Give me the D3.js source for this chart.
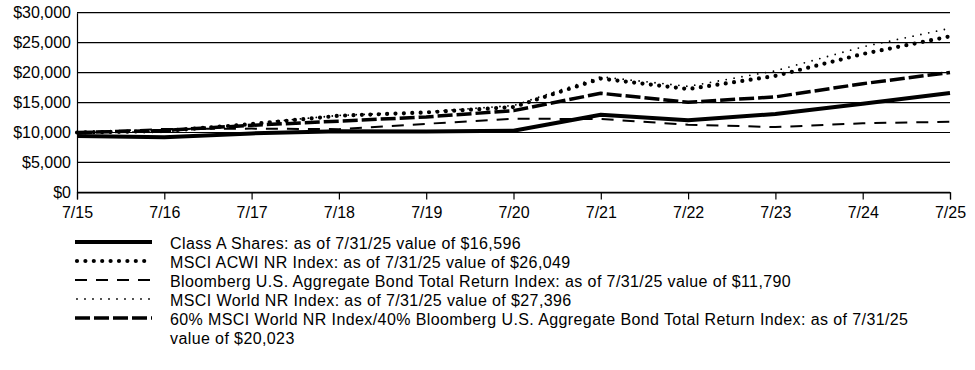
<!DOCTYPE html>
<html>
<head>
<meta charset="utf-8">
<script src="https://cdn.jsdelivr.net/npm/d3@7"></script>
<style>
  html, body { margin: 0; padding: 0; background: #fff; }
  svg { display: block; font-family: "Liberation Sans", Arial, sans-serif; }
</style>
</head>
<body>
<svg id="chart" width="975" height="370"></svg>
<script>
// ---- Data ----
const xLabels = ["7/15","7/16","7/17","7/18","7/19","7/20","7/21","7/22","7/23","7/24","7/25"];
const yTicks = [0, 5000, 10000, 15000, 20000, 25000, 30000];

const classA    = [9425, 9200, 9850, 10200, 10150, 10300, 12950, 12050, 13100, 14800, 16596];
const acwi      = [10000, 10250, 11400, 12800, 13350, 14250, 19000, 17250, 19450, 23100, 26049];
const agg       = [10000, 10594, 10648, 10563, 11450, 12300, 12250, 11300, 10900, 11550, 11790];
const world     = [10000, 10150, 11550, 12850, 13450, 14500, 19300, 17700, 20300, 24300, 27396];
const blend     = [10000, 10350, 11200, 11900, 12600, 13650, 16550, 15050, 15950, 18150, 20023];

const legendLabels = [
  ["Class A Shares: as of 7/31/25 value of $16,596"],
  ["MSCI ACWI NR Index: as of 7/31/25 value of $26,049"],
  ["Bloomberg U.S. Aggregate Bond Total Return Index: as of 7/31/25 value of $11,790"],
  ["MSCI World NR Index: as of 7/31/25 value of $27,396"],
  ["60% MSCI World NR Index/40% Bloomberg U.S. Aggregate Bond Total Return Index: as of 7/31/25", "value of $20,023"]
];

// ---- Styles ----
const styles = [
  { data: classA, width: 4,   dash: null,   cap: "butt" },
  { data: acwi,   width: 4.2, dash: "0 8.4", cap: "round" },
  { data: agg,    width: 2,   dash: "12 9",  cap: "butt" },
  { data: world,  width: 1.8, dash: "0 8",   cap: "round" },
  { data: blend,  width: 3.5, dash: "15 4",  cap: "butt" }
];

const svg = d3.select("#chart");
const mLeft = 77, mRight = 950, mTop = 12.7, mBottom = 192.4;
const fontSize = 16;
const fontFam = "Liberation Sans, Arial, sans-serif";

const x = d3.scalePoint().domain(xLabels).range([mLeft, mRight]);
const y = d3.scaleLinear().domain([0, 30000]).range([mBottom, mTop]);

// Gridlines
svg.append("g").selectAll("line").data(yTicks).join("line")
  .attr("x1", mLeft).attr("x2", mRight)
  .attr("y1", d => y(d)).attr("y2", d => y(d))
  .attr("stroke", "#000").attr("stroke-width", 1.2);

// Y axis
const yAxis = d3.axisLeft(y).tickValues(yTicks).tickSize(0).tickPadding(6)
  .tickFormat(d => "$" + d3.format(",")(d));
const gy = svg.append("g").attr("transform", `translate(${mLeft},0)`).call(yAxis);
gy.select(".domain").attr("stroke", "#000").attr("stroke-width", 1.2);
gy.selectAll("text").attr("font-size", fontSize).attr("font-family", fontFam).attr("fill", "#000");

// X axis
const xAxis = d3.axisBottom(x).tickSize(7).tickPadding(7);
const gx = svg.append("g").attr("transform", `translate(0,${mBottom})`).call(xAxis);
gx.select(".domain").attr("stroke", "#000").attr("stroke-width", 1.2);
gx.selectAll("line").attr("stroke", "#000").attr("stroke-width", 1.2);
gx.selectAll("text").attr("font-size", fontSize).attr("font-family", fontFam).attr("fill", "#000");

// Lines
const line = d3.line().x((d, i) => x(xLabels[i])).y(d => y(d));
const order = [2, 4, 3, 1, 0];
order.forEach(k => {
  const s = styles[k];
  svg.append("path").datum(s.data)
    .attr("d", line)
    .attr("fill", "none")
    .attr("stroke", "#000")
    .attr("stroke-width", s.width)
    .attr("stroke-linecap", s.cap)
    .attr("stroke-linejoin", "round")
    .attr("stroke-dasharray", s.dash);
});

// Legend
const lgTop = 243, lgStep = 19, lgX1 = 75, lgX2 = 152, lgText = 170;
let row = 0;
legendLabels.forEach((lines, k) => {
  const s = styles[k];
  const yy = lgTop + row * lgStep;
  svg.append("line")
    .attr("x1", s.cap === "round" ? lgX1 + 2 : lgX1).attr("x2", lgX2)
    .attr("y1", yy - 1).attr("y2", yy - 1)
    .attr("stroke", "#000")
    .attr("stroke-width", s.width)
    .attr("stroke-linecap", s.cap)
    .attr("stroke-dasharray", s.dash);
  lines.forEach((t, j) => {
    svg.append("text")
      .attr("x", lgText).attr("y", yy + j * lgStep)
      .attr("dy", "0.35em")
      .attr("font-size", fontSize)
      .attr("font-family", fontFam)
      .attr("letter-spacing", "0.4px")
      .attr("fill", "#000")
      .text(t);
  });
  row += lines.length;
});
</script>
</body>
</html>
